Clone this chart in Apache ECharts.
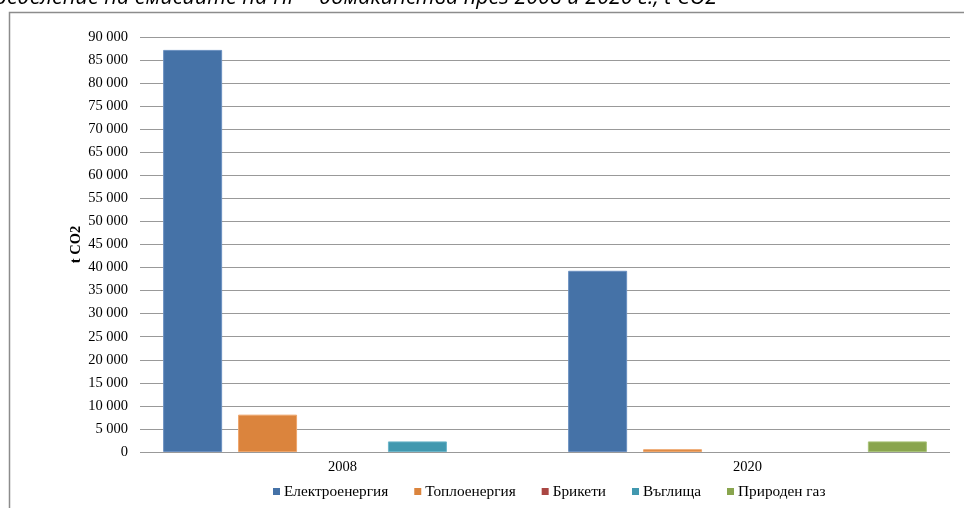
<!DOCTYPE html>
<html>
<head>
<meta charset="utf-8">
<script src="https://cdn.jsdelivr.net/npm/echarts@6/dist/echarts.min.js"></script>
<style>
  html, body { margin: 0; padding: 0; background: #fff; }
  #chart { width: 964px; height: 508px; }
</style>
</head>
<body>
<div id="chart"></div>
<script>
// Household GHG emissions by energy source, t CO2
const years = ['2008', '2020'];
const electricity = [87200, 39300];
const heat = [8100, 600];
const briquettes = [0, 0];
const coal = [2300, 0];
const naturalGas = [0, 2300];

const seriesNames = ['Електроенергия', 'Топлоенергия', 'Брикети', 'Въглища', 'Природен газ'];
const seriesData = [electricity, heat, briquettes, coal, naturalGas];
const colors = ['#4572A7', '#DB843D', '#AA4643', '#4198AF', '#89A54E'];
const edgeColors = ['#6a8fc0', '#eea56a', '#c46b68', '#6bb5c9', '#a7c277'];

const titleText = 'Разпределение на емисиите на ПГ – домакинства през 2008 и 2020 г., t CO2';
const serif = '"Liberation Serif", "Times New Roman", serif';
const textSize = 14.5;

const chart = echarts.init(document.getElementById('chart'), null, { renderer: 'canvas' });

chart.setOption({
  animation: false,
  backgroundColor: '#fff',
  color: colors,
  graphic: [
    {
      type: 'text',
      x: 717,
      y: -13,
      style: {
        text: titleText,
        align: 'right',
        verticalAlign: 'top',
        font: 'italic 21.5px "Open Sans", "DejaVu Sans", sans-serif',
        fill: '#000'
      }
    },
    {
      type: 'polyline',
      shape: { points: [[9.5, 508], [9.5, 12.5], [964, 12.5]] },
      style: { stroke: '#8c8c8c', lineWidth: 1.5, fill: null }
    }
  ],
  grid: { left: 140, right: 14, top: 37, bottom: 56, containLabel: false },
  legend: {
    top: 479,
    left: 268,
    itemWidth: 7,
    itemHeight: 7,
    itemGap: 26,
    icon: 'rect',
    textStyle: { fontFamily: serif, fontSize: 15.3, color: '#000', padding: [0, 0, 0, -1] },
    data: seriesNames
  },
  xAxis: {
    type: 'category',
    data: years,
    axisLine: { show: false },
    axisTick: { show: false },
    axisLabel: { fontFamily: serif, fontSize: textSize, color: '#000', margin: 8 }
  },
  yAxis: {
    type: 'value',
    min: 0,
    max: 90000,
    interval: 5000,
    name: 't CO2',
    nameLocation: 'middle',
    nameGap: 56,
    nameMoveOverlap: false,
    nameTextStyle: { fontFamily: serif, fontSize: textSize, fontWeight: 'bold', color: '#000' },
    axisLine: { show: false },
    axisTick: { show: false },
    splitLine: { lineStyle: { color: '#999', width: 1 } },
    axisLabel: {
      fontFamily: serif,
      fontSize: textSize,
      color: '#000',
      margin: 12,
      formatter: v => String(v).replace(/\B(?=(\d{3})+(?!\d))/g, ' ')
    }
  },
  series: seriesNames.map((name, i) => ({
    name,
    type: 'bar',
    data: seriesData[i].map(v => ({
      value: v,
      itemStyle: { borderWidth: v > 0 ? 1 : 0 }
    })),
    barWidth: 59,
    barGap: '27%',
    itemStyle: { color: colors[i], borderColor: edgeColors[i] }
  }))
});
</script>
</body>
</html>
